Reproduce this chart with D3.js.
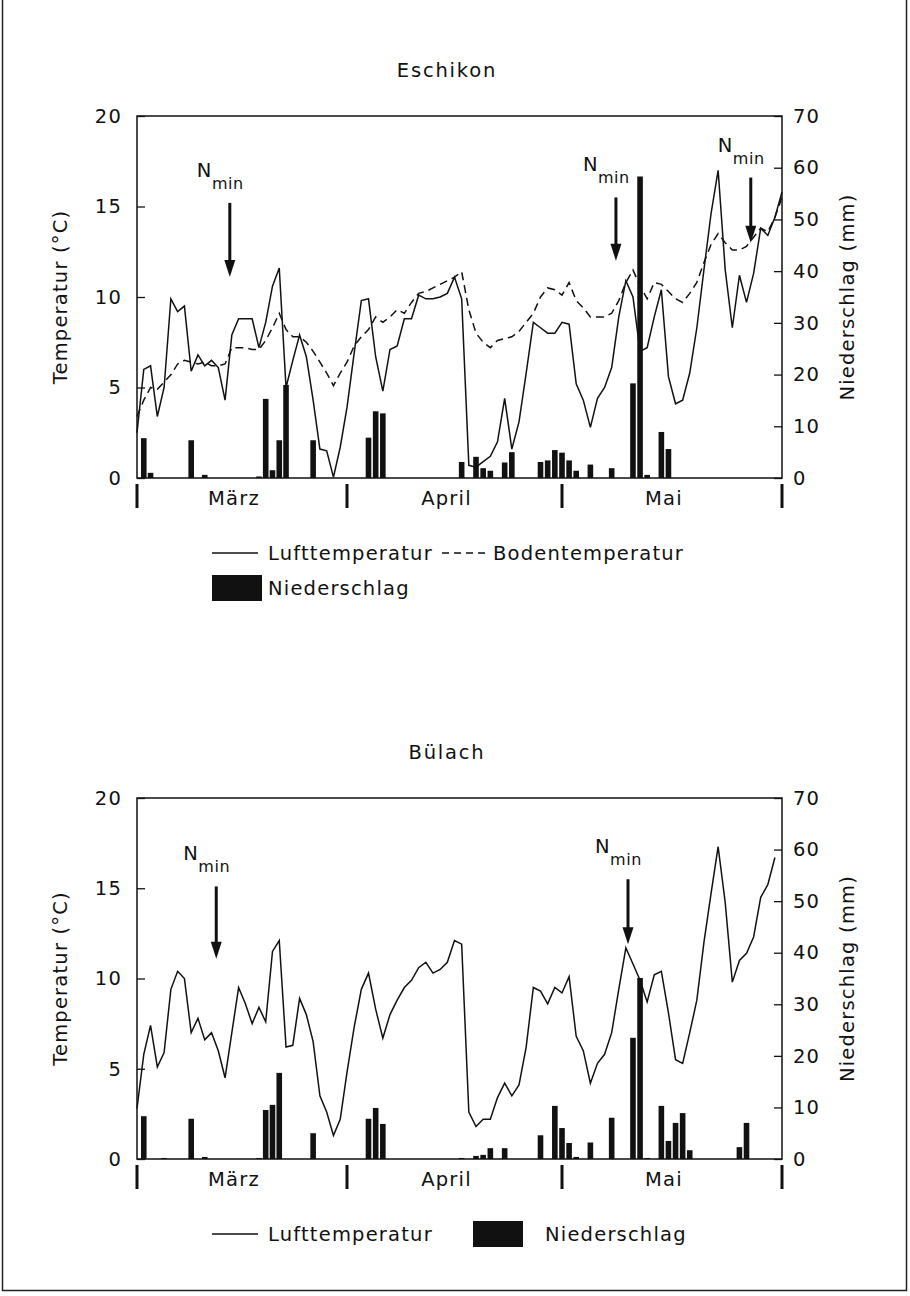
<!DOCTYPE html>
<html>
<head>
<meta charset="utf-8">
<script src="https://cdn.jsdelivr.net/npm/d3@7"></script>
<style>
  body { margin: 0; background: #fff; }
  text { font-family: "DejaVu Sans", sans-serif; fill: #111; letter-spacing: 1.2px; font-size: 19.5px; }
</style>
</head>
<body>
<svg id="chart" width="910" height="1296"></svg>
<script>
// Tage ab 1. März (0 = 1. März, 31 = 1. April, 61 = 1. Mai, 92 = Ende Mai)
var monthStarts = [0, 31, 61, 92];
var monthNames = ["März", "April", "Mai"];
var tempTicks = [0, 5, 10, 15, 20];
var rainTicks = [0, 10, 20, 30, 40, 50, 60, 70];

// Eschikon
var eschikonAir = [
  2.5, 6.0, 6.2, 3.4, 5.0, 9.9, 9.2, 9.5, 5.9, 6.8,
  6.2, 6.5, 6.1, 4.3, 7.9, 8.8, 8.8, 8.8, 7.2, 8.6,
  10.6, 11.6, 5.0, 6.5, 7.9, 6.7, 4.3, 1.6, 1.5, 0.05,
  1.7, 3.9, 6.9, 9.8, 9.9, 6.7, 4.8, 7.1, 7.3, 8.8,
  8.8, 10.1, 9.9, 9.9, 10.0, 10.2, 11.1, 9.9, 0.7, 0.6,
  0.9, 1.2, 2.0, 4.4, 1.6, 3.1, 5.8, 8.6, 8.3, 8.0,
  8.0, 8.6, 8.5, 5.2, 4.3, 2.8, 4.4, 5.0, 6.1, 8.9,
  10.9, 10.0, 7.0, 7.2, 8.9, 10.4, 5.6, 4.1, 4.3, 5.8,
  8.3, 11.5, 14.6, 17.0, 11.5, 8.3, 11.2, 9.7, 11.3, 13.8,
  13.4, 14.4, 15.8
];
var eschikonSoil = [
  3.4, 4.3, 5.0, 4.9, 5.3, 5.7, 6.3, 6.5, 6.4, 6.3,
  6.4, 6.2, 6.2, 6.3, 7.2, 7.2, 7.2, 7.1, 7.1, 7.6,
  8.3, 9.1, 8.2, 7.8, 7.8, 7.5, 7.0, 6.4, 5.8, 5.1,
  5.8, 6.4, 7.3, 7.8, 8.2, 8.9, 8.6, 8.9, 9.3, 9.1,
  9.7, 10.2, 10.3, 10.5, 10.7, 10.9, 11.1, 11.4, 9.3, 8.0,
  7.5, 7.2, 7.6, 7.7, 7.8, 8.1, 8.6, 9.1, 10.0, 10.5,
  10.4, 10.1, 10.8, 9.8, 9.4, 8.9, 8.9, 8.9, 9.1, 9.8,
  10.8, 11.5, 10.6, 9.9, 10.8, 10.7, 10.3, 9.9, 9.7, 10.2,
  10.8, 11.9, 12.9, 13.5, 13.0, 12.6, 12.6, 12.8, 13.3, 13.8,
  13.6, 14.4, 15.5
];
var eschikonRain = [
  0, 7.7, 1.0, 0, 0, 0, 0, 0, 7.3, 0,
  0.6, 0, 0, 0, 0, 0, 0, 0, 0.3, 15.3,
  1.5, 7.3, 18.0, 0, 0, 0, 7.3, 0, 0, 0,
  0, 0, 0, 0, 7.8, 12.9, 12.5, 0, 0, 0,
  0, 0, 0, 0, 0, 0, 0, 3.1, 0, 4.1,
  1.9, 1.4, 0, 3.0, 5.0, 0, 0, 0, 3.1, 3.4,
  5.4, 4.9, 3.4, 1.4, 0, 2.6, 0, 0, 1.9, 0,
  0, 18.3, 58.3, 0.6, 0, 8.9, 5.6, 0, 0, 0,
  0, 0, 0, 0, 0, 0, 0, 0, 0, 0,
  0, 0, 0
];
var eschikonNminDays = [13.7, 68.6, 87.6];
var eschikonNminTip = [11.1, 12.0, 13.0];
var eschikonNminTail = [15.2, 15.5, 16.6];

// Bülach
var bulachAir = [
  2.8, 5.8, 7.4, 5.1, 5.9, 9.4, 10.4, 10.0, 7.0, 7.8,
  6.6, 7.0, 6.0, 4.5, 7.0, 9.5, 8.6, 7.5, 8.4, 7.6,
  11.5, 12.1, 6.2, 6.3, 8.9, 8.0, 6.5, 3.5, 2.6, 1.3,
  2.2, 4.8, 7.3, 9.4, 10.3, 8.3, 6.7, 8.0, 8.8, 9.5,
  9.9, 10.6, 10.9, 10.3, 10.5, 10.9, 12.1, 11.9, 2.6, 1.8,
  2.2, 2.2, 3.4, 4.2, 3.5, 4.1, 6.2, 9.5, 9.3, 8.6,
  9.5, 9.2, 10.1, 6.8, 6.0, 4.2, 5.3, 5.8, 7.0, 9.4,
  11.7, 10.8, 9.9, 8.7, 10.2, 10.4, 8.1, 5.5, 5.3, 7.0,
  8.8, 12.0, 14.7, 17.3, 14.2, 9.8, 11.0, 11.4, 12.3, 14.5,
  15.2, 16.7
];
var bulachRain = [
  0, 8.3, 0, 0, 0.2, 0, 0, 0, 7.8, 0,
  0.4, 0, 0, 0, 0, 0, 0, 0, 0.2, 9.5,
  10.5, 16.7, 0, 0, 0, 0, 5.0, 0, 0, 0,
  0, 0, 0, 0, 7.8, 9.9, 6.8, 0, 0, 0,
  0, 0, 0, 0, 0, 0, 0, 0.2, 0, 0.6,
  0.8, 2.1, 0, 2.1, 0, 0, 0, 0, 4.6, 0,
  10.3, 6.0, 3.1, 0.4, 0, 3.2, 0, 0, 8.0, 0,
  0, 23.5, 35.1, 0.2, 0, 10.3, 3.5, 7.0, 8.9, 1.7,
  0, 0, 0, 0, 0, 0, 2.3, 7.0, 0, 0,
  0, 0
];
var bulachNminDays = [11.7, 70.3];
var bulachNminTip = [11.1, 11.9];
var bulachNminTail = [15.1, 15.5];

var svg = d3.select("#chart");

// Seitenrahmen
svg.append("path")
  .attr("d", "M2.5,0 V1290.5 H906.5 V0")
  .attr("fill", "none").attr("stroke", "#222").attr("stroke-width", 1.5);

var x = d3.scaleLinear().domain(monthStarts).range([137, 347, 562, 782]);

function drawPanel(p) {
  var g = svg.append("g");
  var yT = d3.scaleLinear().domain([0, 20]).range([p.bottom, p.top]);
  var yP = d3.scaleLinear().domain([0, 70]).range([p.bottom, p.top]);

  g.append("text").attr("x", 447).attr("y", p.top - 39)
    .attr("text-anchor", "middle").style("letter-spacing", "1.8px").text(p.title);

  // Niederschlag
  g.selectAll("rect.bar")
    .data(p.rain.map(function(v, i){ return {d: i, v: v}; }).filter(function(o){ return o.v > 0; }))
    .enter().append("rect")
    .attr("class", "bar")
    .attr("x", function(o){ return x(o.d) - 2.8; })
    .attr("width", 5.6)
    .attr("y", function(o){ return yP(o.v); })
    .attr("height", function(o){ return yP(0) - yP(o.v); })
    .attr("fill", "#111");

  var line = d3.line().x(function(d, i){ return x(i); }).y(function(d){ return yT(d); });
  if (p.soil) {
    g.append("path").datum(p.soil).attr("d", line)
      .attr("fill", "none").attr("stroke", "#111").attr("stroke-width", 1.5)
      .attr("stroke-dasharray", "8,5");
  }
  g.append("path").datum(p.air).attr("d", line)
    .attr("fill", "none").attr("stroke", "#111").attr("stroke-width", 1.5);

  // Rahmen
  g.append("rect").attr("x", x(0)).attr("y", p.top)
    .attr("width", x(92) - x(0)).attr("height", p.bottom - p.top)
    .attr("fill", "none").attr("stroke", "#111").attr("stroke-width", 1.5);

  // Achsen
  var left = g.append("g").attr("transform", "translate(" + x(0) + ",0)")
    .call(d3.axisLeft(yT).tickValues(tempTicks).tickSizeInner(-8).tickSizeOuter(0).tickPadding(15));
  var right = g.append("g").attr("transform", "translate(" + x(92) + ",0)")
    .call(d3.axisRight(yP).tickValues(rainTicks).tickSizeInner(-8).tickSizeOuter(0).tickPadding(11));
  [left, right].forEach(function(a){
    a.select(".domain").remove();
    a.selectAll("line").attr("stroke", "#111").attr("stroke-width", 1.3);
    a.selectAll("text").attr("font-size", 19.5).attr("font-family", "DejaVu Sans").attr("fill", "#111");
  });

  g.append("text")
    .attr("transform", "translate(67," + (p.top + p.bottom) / 2 + ") rotate(-90)")
    .attr("text-anchor", "middle").text("Temperatur (°C)");
  g.append("text")
    .attr("transform", "translate(854," + (p.top + p.bottom) / 2 + ") rotate(-90)")
    .attr("text-anchor", "middle").text("Niederschlag (mm)");

  // Monatsmarken
  g.selectAll("rect.mtick").data(monthStarts).enter().append("rect")
    .attr("class", "mtick")
    .attr("x", function(d){ return x(d) - 1.5; })
    .attr("y", p.bottom + 6).attr("width", 3).attr("height", 24).attr("fill", "#111");
  g.selectAll("text.month").data(monthNames).enter().append("text")
    .attr("class", "month")
    .attr("x", function(d, i){ return x((monthStarts[i] + monthStarts[i + 1]) / 2) - 8; })
    .attr("y", p.bottom + 27)
    .attr("text-anchor", "middle").text(function(d){ return d; });

  // N_min Pfeile
  p.nminDays.forEach(function(d, i){
    var ax = x(d), tip = yT(p.nminTip[i]), tail = yT(p.nminTail[i]);
    g.append("line").attr("x1", ax).attr("x2", ax).attr("y1", tail).attr("y2", tip - 12)
      .attr("stroke", "#111").attr("stroke-width", 3);
    g.append("path")
      .attr("d", "M" + (ax - 5.5) + "," + (tip - 17) + " L" + (ax + 5.5) + "," + (tip - 17) + " L" + ax + "," + tip + "Z")
      .attr("fill", "#111");
    var t = g.append("text").attr("x", ax - 33).attr("y", tail - 26).style("letter-spacing", "0.5px");
    t.append("tspan").text("N");
    t.append("tspan").attr("dy", 12).style("font-size", "16px").text("min");
  });

  // Legende
  var ly = p.bottom + 75;
  g.append("line").attr("x1", 212).attr("x2", 258).attr("y1", ly).attr("y2", ly)
    .attr("stroke", "#111").attr("stroke-width", 1.5);
  g.append("text").attr("x", 268).attr("y", ly).attr("dy", "0.35em").text("Lufttemperatur");
  if (p.soil) {
    g.append("line").attr("x1", 442).attr("x2", 485).attr("y1", ly).attr("y2", ly)
      .attr("stroke", "#111").attr("stroke-width", 1.5).attr("stroke-dasharray", "7,5");
    g.append("text").attr("x", 493).attr("y", ly).attr("dy", "0.35em").text("Bodentemperatur");
    g.append("rect").attr("x", 212).attr("y", ly + 22).attr("width", 50).attr("height", 26).attr("fill", "#111");
    g.append("text").attr("x", 268).attr("y", ly + 35).attr("dy", "0.35em").text("Niederschlag");
  } else {
    g.append("rect").attr("x", 473).attr("y", ly - 13).attr("width", 50).attr("height", 26).attr("fill", "#111");
    g.append("text").attr("x", 545).attr("y", ly).attr("dy", "0.35em").text("Niederschlag");
  }
}

drawPanel({title: "Eschikon", top: 116, bottom: 478, air: eschikonAir, soil: eschikonSoil, rain: eschikonRain,
  nminDays: eschikonNminDays, nminTip: eschikonNminTip, nminTail: eschikonNminTail});
drawPanel({title: "Bülach", top: 798, bottom: 1159, air: bulachAir, soil: null, rain: bulachRain,
  nminDays: bulachNminDays, nminTip: bulachNminTip, nminTail: bulachNminTail});
</script>
</body>
</html>
